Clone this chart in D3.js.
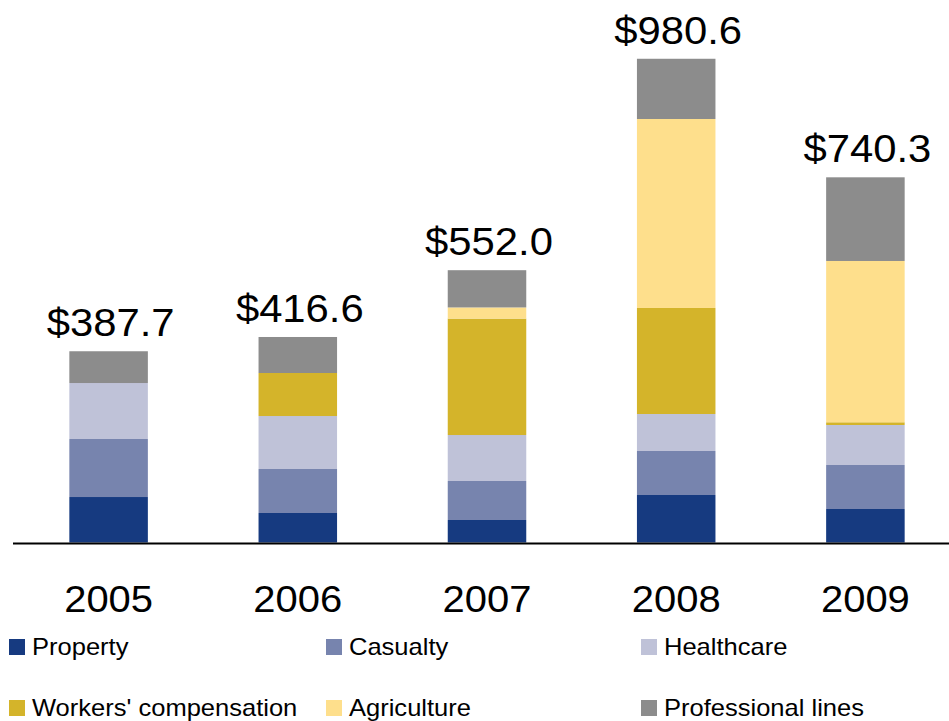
<!DOCTYPE html>
<html><head><meta charset="utf-8">
<script src="https://cdn.jsdelivr.net/npm/d3@7"></script>
<style>html,body{margin:0;padding:0;background:#fff;overflow:hidden}</style>
</head><body>
<svg id="chart" width="949" height="721"></svg>
<script>
const years = ["2005","2006","2007","2008","2009"];
const totals = [387.7, 416.6, 552.0, 980.6, 740.3];
const seriesNames = ["Property","Casualty","Healthcare","Workers' compensation","Agriculture","Professional lines"];
const property     = [92.2, 59.8, 45.6, 96.3, 67.9];
const casualty     = [117.6, 89.2, 79.1, 89.2, 89.2];
const healthcare   = [113.5, 107.4, 93.2, 75.0, 81.1];
const workersComp  = [0, 87.2, 236.0, 214.9, 5.5];
const agriculture  = [0, 0, 22.6, 383.1, 327.0];
const professional = [64.4, 73.0, 75.5, 122.1, 169.6];
const colors = ["#163a80","#7784ae","#bfc2d8","#d4b42a","#fedf8c","#8c8c8c"];

const seriesData = [property, casualty, healthcare, workersComp, agriculture, professional];
const rows = years.map((y,i)=>{const r={year:y}; seriesNames.forEach((s,j)=>r[s]=seriesData[j][i]); return r;});

const svg = d3.select("#chart");
const font = "'Liberation Sans', Arial, sans-serif";
const sx = 1.08;

const x = d3.scaleBand().domain(years).range([14, 960]).paddingInner(0.585).paddingOuter(0.2925);
const y = d3.scaleLinear().domain([0, 1000]).range([542.5, 542.5 - 493.3]);

const stack = d3.stack().keys(seriesNames)(rows);

svg.append("g").selectAll("g").data(stack).join("g")
  .attr("fill",(d,i)=>colors[i])
  .selectAll("rect").data(d=>d).join("rect")
  .attr("x", d=>x(d.data.year))
  .attr("width", x.bandwidth())
  .attr("y", d=>y(d[1]))
  .attr("height", d=>Math.max(0, y(d[0]) - y(d[1])));

// axis line
svg.append("line").attr("x1",13).attr("x2",949).attr("y1",543.5).attr("y2",543.5)
  .attr("stroke","#000").attr("stroke-width",2);

// total labels
svg.append("g").selectAll("text").data(years).join("text")
  .attr("transform",(d,i)=>`translate(${x(d)+x.bandwidth()/2 + 2},${y(totals[i]) - 15}) scale(${sx+0.02},1)`)
  .attr("text-anchor","middle")
  .attr("font-family",font).attr("font-size",38).attr("fill","#000")
  .text((d,i)=>"$"+totals[i].toFixed(1));

// year labels
const xAxis = d3.axisBottom(x).tickSize(0).tickPadding(0);
const ax = svg.append("g").attr("transform","translate(0,612)").call(xAxis);
ax.select(".domain").remove();
ax.selectAll("text").attr("dy",0).attr("y",0)
  .attr("font-family",font).attr("font-size",37).attr("fill","#000")
  .attr("transform",`scale(${sx},1)`);
ax.selectAll(".tick").attr("transform",d=>`translate(${x(d)+x.bandwidth()/2},0)`);

// legend
const legCols = [9, 326, 641];
const legRows = [639, 700];
const leg = svg.append("g").selectAll("g").data(seriesNames).join("g")
  .attr("transform",(d,i)=>`translate(${legCols[i%3]},${legRows[Math.floor(i/3)]})`);
leg.append("rect").attr("width",16).attr("height",16).attr("fill",(d,i)=>colors[i]);
leg.append("text").attr("transform",`translate(23,15.5) scale(1.11,1)`)
  .attr("font-family",font).attr("font-size",23).attr("fill","#000")
  .text(d=>d);
</script>
</body></html>
